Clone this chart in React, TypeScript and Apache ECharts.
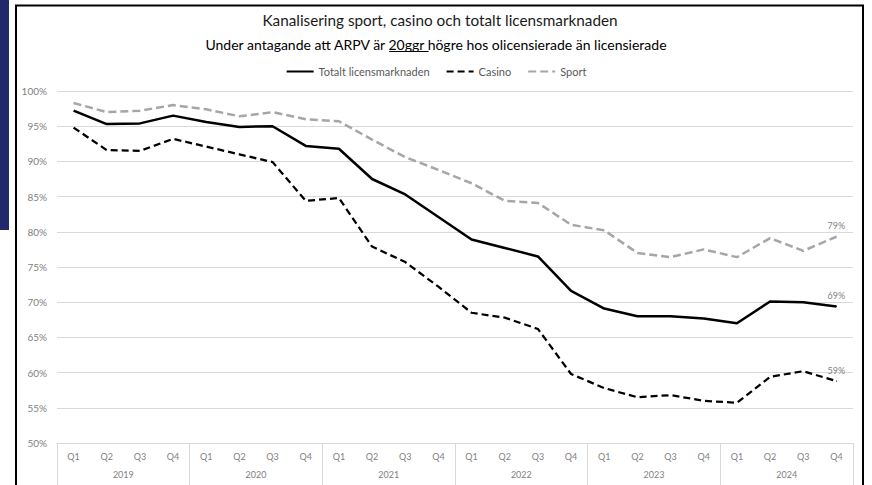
import React, { useEffect, useRef } from "react";
import * as echarts from "echarts";

const quarters = [
  "Q1", "Q2", "Q3", "Q4", "Q1", "Q2", "Q3", "Q4", "Q1", "Q2", "Q3", "Q4",
  "Q1", "Q2", "Q3", "Q4", "Q1", "Q2", "Q3", "Q4", "Q1", "Q2", "Q3", "Q4",
];
const years = ["2019", "2020", "2021", "2022", "2023", "2024"];
const totalt = [97.2, 95.3, 95.4, 96.5, 95.6, 94.9, 95.0, 92.2, 91.8, 87.5, 85.3, 82.1, 78.9, 77.7, 76.5, 71.6, 69.1, 68.0, 68.0, 67.7, 67.0, 70.1, 70.0, 69.4];
const casino = [94.8, 91.6, 91.5, 93.2, 92.1, 91.0, 89.9, 84.4, 84.8, 77.9, 75.7, 72.2, 68.5, 67.8, 66.2, 59.8, 57.8, 56.5, 56.8, 56.0, 55.7, 59.4, 60.2, 58.8];
const sport = [98.3, 97.0, 97.2, 98.0, 97.4, 96.4, 97.0, 96.0, 95.7, 93.1, 90.6, 88.8, 86.9, 84.4, 84.1, 81.0, 80.2, 77.0, 76.4, 77.5, 76.4, 79.1, 77.3, 79.3];
const yTicks = { min: 50, max: 100, interval: 5 };

const titleText = "Kanalisering sport, casino och totalt licensmarknaden";
const subPre = "Under antagande att ARPV är ";
const subUnder = "20ggr ";
const subPost = "högre hos olicensierade än licensierade";

const FONT = "Lato, 'Open Sans', sans-serif";

function withEndLabel(arr: number[], color: string) {
  return arr.map((v, i) =>
    i === arr.length - 1
      ? {
          value: v,
          symbol: "circle",
          symbolSize: 1,
          itemStyle: { color },
          label: {
            show: true,
            position: "top",
            distance: 6,
            formatter: Math.round(v) + "%",
            color: "#7f7f7f",
            fontSize: 9,
            fontFamily: FONT,
          },
        }
      : v
  );
}

export default function App() {
  const ref = useRef<HTMLDivElement>(null);
  useEffect(() => {
    if (!ref.current) return;
    const chart = echarts.init(ref.current, undefined, { renderer: "svg" });

    const subSize = 14;
    const subCx = 436;
    const subY = 44;
    const canvas = document.createElement("canvas");
    const ctx = canvas.getContext("2d")!;
    ctx.font = `${subSize}px Lato`;
    const full = ctx.measureText(subPre + subUnder + subPost).width;
    const pre = ctx.measureText(subPre).width;
    const uw = ctx.measureText(subUnder).width;
    const ux0 = subCx - full / 2 + pre;

    const option: any = {
      animation: false,
      backgroundColor: "#ffffff",
      textStyle: { fontFamily: FONT },
      grid: { left: 57, right: 19, top: 91, bottom: 42, containLabel: false },
      legend: {
        top: 61,
        left: "center",
        itemWidth: 27,
        itemHeight: 6,
        itemGap: 16,
        itemStyle: { opacity: 0 },
        textStyle: { color: "#595959", fontSize: 11, fontFamily: FONT },
        data: ["Totalt licensmarknaden", "Casino", "Sport"],
      },
      xAxis: [
        {
          type: "category",
          data: quarters,
          boundaryGap: true,
          axisLine: { show: true, lineStyle: { color: "#d9d9d9", width: 1 } },
          axisTick: { show: false },
          axisLabel: { interval: 0, color: "#7f7f7f", fontSize: 9, margin: 9, fontFamily: FONT },
          splitLine: { show: false },
        },
        {
          type: "category",
          data: years,
          position: "bottom",
          boundaryGap: true,
          axisLine: { show: false },
          axisTick: { show: true, length: 46, lineStyle: { color: "#d9d9d9", width: 1 } },
          axisLabel: { interval: 0, color: "#7f7f7f", fontSize: 9, margin: 27, fontFamily: FONT },
          splitLine: { show: false },
        },
      ],
      yAxis: {
        type: "value",
        min: yTicks.min,
        max: yTicks.max,
        interval: yTicks.interval,
        axisLine: { show: false },
        axisTick: { show: false },
        axisLabel: {
          formatter: (v: number) => v + "%",
          color: "#7f7f7f",
          fontSize: 10,
          margin: 10,
          fontFamily: FONT,
        },
        splitLine: { lineStyle: { color: "#d9d9d9", width: 1 } },
      },
      series: [
        {
          name: "Totalt licensmarknaden",
          type: "line",
          data: withEndLabel(totalt, "#000000"),
          symbol: "none",
          lineStyle: { color: "#000000", width: 2.5, type: "solid" },
          itemStyle: { color: "#000000" },
          z: 4,
        },
        {
          name: "Casino",
          type: "line",
          data: withEndLabel(casino, "#000000"),
          symbol: "none",
          lineStyle: { color: "#000000", width: 2.25, type: [7, 4] },
          itemStyle: { color: "#000000" },
          z: 3,
        },
        {
          name: "Sport",
          type: "line",
          data: withEndLabel(sport, "#a6a6a6"),
          symbol: "none",
          lineStyle: { color: "#a6a6a6", width: 2.5, type: [8, 4] },
          itemStyle: { color: "#a6a6a6" },
          z: 2,
        },
      ],
      graphic: [
        {
          type: "rect",
          shape: { x: 0, y: 0, width: 9, height: 230 },
          style: { fill: "#21296b" },
          silent: true,
        },
        {
          type: "rect",
          shape: { x: 16, y: 5.5, width: 847, height: 500 },
          style: { fill: "none", stroke: "#000000", lineWidth: 2 },
          silent: true,
        },
        {
          type: "text",
          x: 440,
          y: 20,
          style: {
            text: titleText,
            align: "center",
            verticalAlign: "middle",
            fontSize: 15.3,
            fontFamily: FONT,
            fill: "#1a1a1a",
          },
        },
        {
          type: "text",
          x: subCx,
          y: subY,
          style: {
            text: subPre + subUnder + subPost,
            align: "center",
            verticalAlign: "middle",
            fontSize: subSize,
            fontFamily: FONT,
            fill: "#000000",
          },
        },
        {
          type: "line",
          shape: { x1: ux0, y1: subY + 7.5, x2: ux0 + uw, y2: subY + 7.5 },
          style: { stroke: "#000000", lineWidth: 1 },
          silent: true,
        },
      ],
    };
    chart.setOption(option);
    return () => chart.dispose();
  }, []);
  return (
    <div
      ref={ref}
      style={{ position: "fixed", left: 0, top: 0, width: 872, height: 485, background: "#fff" }}
    />
  );
}
